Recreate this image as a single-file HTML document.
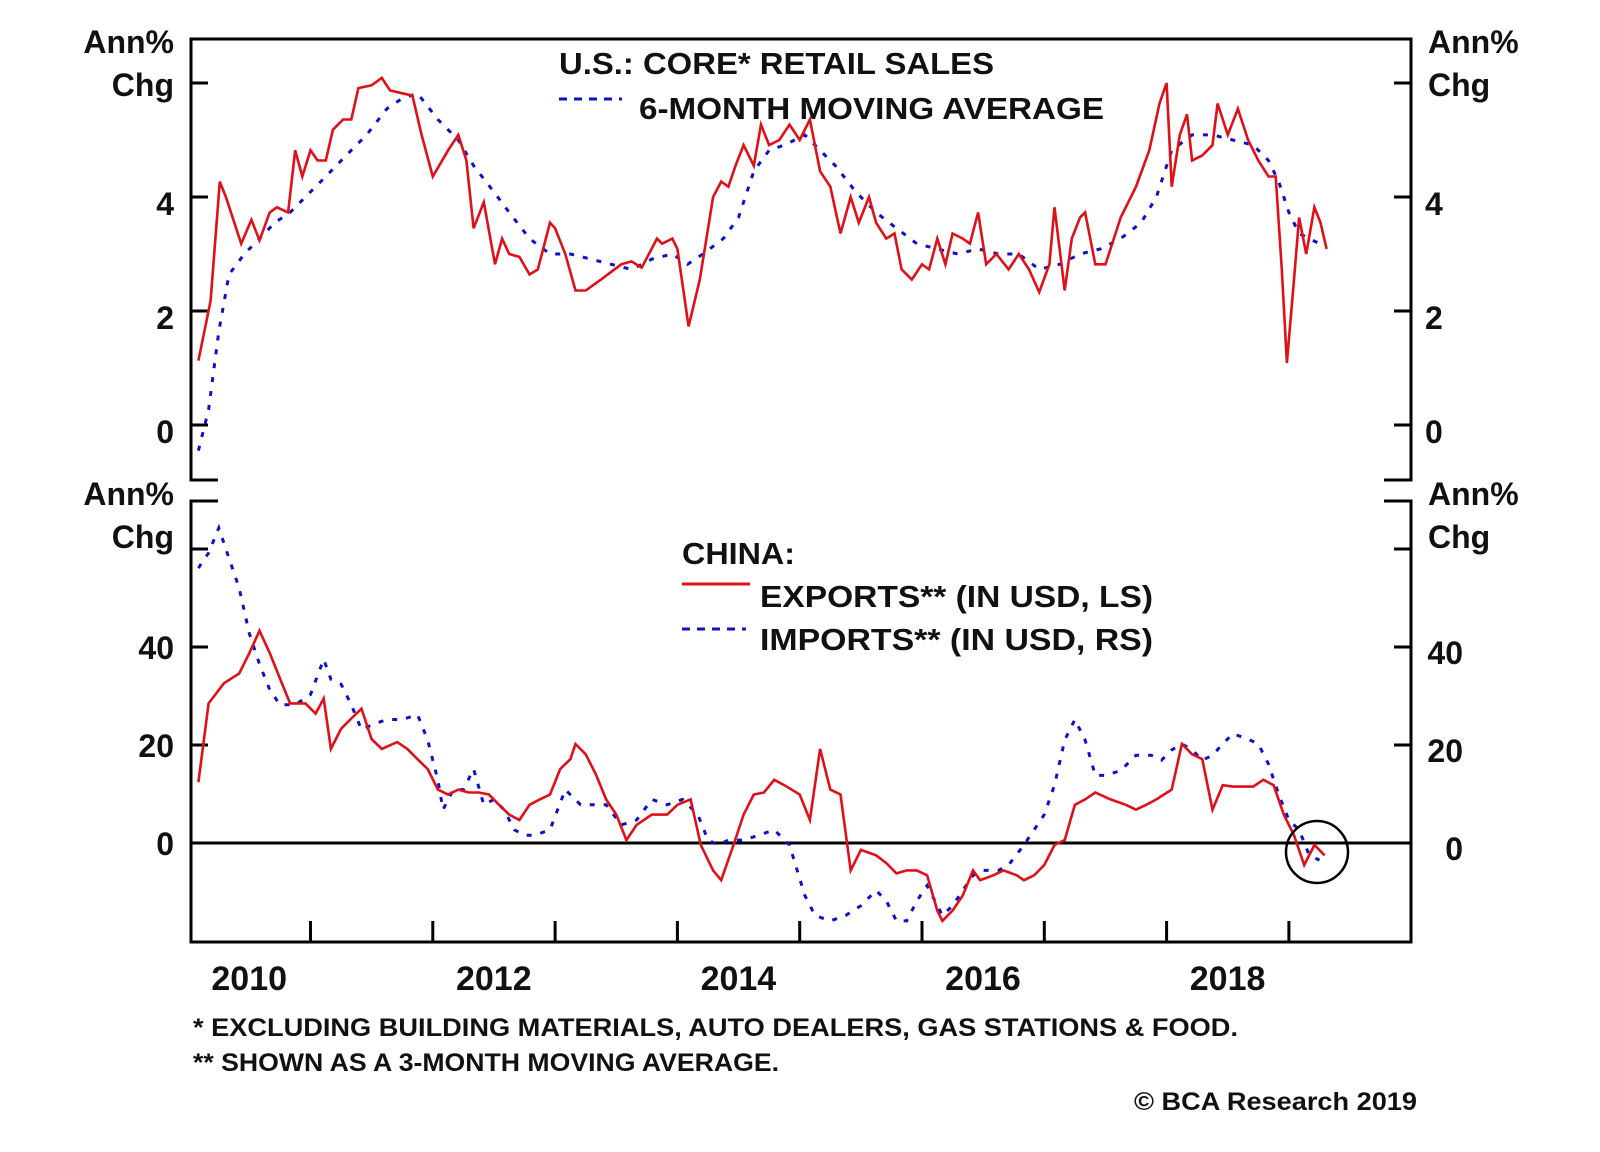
<!DOCTYPE html>
<html><head><meta charset="utf-8">
<style>
html,body{margin:0;padding:0;background:#fff;}
svg{display:block;}
text{font-family:"Liberation Sans",Arial,sans-serif;font-weight:bold;fill:#111;}
</style></head>
<body>
<svg id="chart" width="1600" height="1152" viewBox="0 0 1600 1152" xmlns="http://www.w3.org/2000/svg">
<rect x="0" y="0" width="1600" height="1152" fill="#fff"/>
<g id="frame" stroke="#000" stroke-width="3" fill="none">
  <polyline points="218,480 191,480 191,39 1411,39 1411,480 1384,480"/>
  <polyline points="218,501 191,501 191,942 1411,942 1411,501 1384,501"/>
</g>
<g id="ticks"></g>
<g id="series"></g>
<g id="labels"></g>

<g>
  <text x="559" y="74" font-size="31" textLength="435" lengthAdjust="spacingAndGlyphs">U.S.: CORE* RETAIL SALES</text>
  <line x1="559" y1="99" x2="622" y2="99" stroke="#1010c8" stroke-width="3" stroke-dasharray="8 7"/>
  <text x="639" y="119" font-size="31" textLength="465" lengthAdjust="spacingAndGlyphs">6-MONTH MOVING AVERAGE</text>
</g>
<g>
  <text x="682" y="564" font-size="31" textLength="113" lengthAdjust="spacingAndGlyphs">CHINA:</text>
  <line x1="682" y1="584" x2="750" y2="584" stroke="#e01018" stroke-width="3"/>
  <text x="760" y="607" font-size="31" textLength="393" lengthAdjust="spacingAndGlyphs">EXPORTS** (IN USD, LS)</text>
  <line x1="682" y1="629" x2="746" y2="629" stroke="#1010c8" stroke-width="3" stroke-dasharray="8 7"/>
  <text x="760" y="650" font-size="31" textLength="393" lengthAdjust="spacingAndGlyphs">IMPORTS** (IN USD, RS)</text>
</g>
<ellipse cx="1317" cy="852" rx="31" ry="31" fill="none" stroke="#000" stroke-width="2.5"/>
<g>
  <text x="193" y="1036" font-size="25" textLength="1045" lengthAdjust="spacingAndGlyphs">*  EXCLUDING BUILDING MATERIALS, AUTO DEALERS, GAS STATIONS &amp; FOOD.</text>
  <text x="193" y="1071" font-size="25" textLength="586" lengthAdjust="spacingAndGlyphs">** SHOWN AS A 3-MONTH MOVING AVERAGE.</text>
  <text x="1134" y="1110" font-size="25" textLength="283" lengthAdjust="spacingAndGlyphs">© BCA Research 2019</text>
</g>
</svg>
<script>
// months since Jan 2010
const usSalesMonths = [1.0,2.2,3.1,3.7,5.2,6.2,7.0,8.0,8.7,9.8,10.5,11.2,12.0,12.7,13.5,14.2,15.2,16.0,16.7,18.0,19.0,19.8,21.0,22.0,22.9,24.0,25.5,26.5,27.3,28.0,29.0,30.1,30.8,31.5,32.5,33.5,34.3,35.5,36.0,37.0,38.0,39.0,40.5,42.5,43.5,44.5,46.0,46.5,47.5,48.0,49.1,50.2,51.5,52.3,53.0,53.7,54.5,55.5,56.2,57.0,58.0,59.0,60.0,61.0,62.0,63.0,64.0,65.0,65.8,66.8,67.5,68.5,69.3,70.0,71.0,72.0,72.7,73.5,74.3,75.0,76.0,76.7,77.5,78.3,79.3,80.5,81.5,82.5,83.5,84.5,85.0,86.0,86.7,87.5,88.0,89.0,90.0,91.5,93.0,94.3,95.3,96.0,96.5,97.3,98.0,98.5,99.5,100.5,101.0,102.0,103.0,104.0,105.0,106.0,106.7,107.3,107.8,108.5,109.0,109.7,110.5,111.1,111.7];
const usSalesValues = [1.13,2.18,4.27,4.0,3.18,3.6,3.24,3.73,3.82,3.73,4.82,4.36,4.82,4.64,4.64,5.18,5.36,5.36,5.91,5.96,6.09,5.87,5.82,5.78,5.09,4.36,4.82,5.09,4.64,3.45,3.91,2.82,3.27,3.0,2.95,2.64,2.73,3.55,3.45,3.0,2.36,2.36,2.55,2.82,2.87,2.76,3.27,3.18,3.27,3.09,1.73,2.55,4.0,4.27,4.18,4.55,4.91,4.55,5.27,4.91,5.0,5.27,5.0,5.36,4.45,4.18,3.36,4.0,3.55,4.0,3.55,3.27,3.36,2.73,2.55,2.82,2.73,3.27,2.82,3.36,3.27,3.18,3.73,2.82,3.0,2.73,3.0,2.73,2.33,2.82,3.82,2.36,3.27,3.64,3.73,2.82,2.82,3.64,4.18,4.82,5.64,6.0,4.18,5.09,5.45,4.64,4.73,4.91,5.64,5.09,5.55,5.0,4.64,4.36,4.36,2.73,1.09,2.55,3.64,3.0,3.82,3.55,3.09];
const usMaMonths = [1.0,2.0,3.0,4.0,5.5,7.0,8.5,10.0,11.5,13.5,15.5,17.5,19.5,21.0,22.5,24.5,26.5,28.0,30.0,31.5,33.5,35.5,37.5,39.5,41.5,43.5,45.5,47.5,49.0,50.5,52.5,54.0,55.5,57.0,58.5,60.5,62.0,63.5,65.5,67.5,69.5,71.5,73.5,75.5,77.5,79.5,81.5,83.5,85.5,87.5,89.5,91.5,93.5,95.0,96.5,98.5,100.5,102.5,104.5,106.0,107.0,108.0,109.0,110.0,111.0];
const usMaValues = [-0.45,0.27,1.64,2.64,3.0,3.27,3.55,3.73,4.0,4.36,4.73,5.09,5.55,5.73,5.82,5.36,5.0,4.55,4.09,3.73,3.27,3.0,3.0,2.91,2.82,2.73,2.91,3.0,2.82,3.0,3.27,3.64,4.45,4.82,4.91,5.09,4.82,4.55,4.09,3.73,3.45,3.18,3.09,3.0,3.09,3.0,3.0,2.73,2.82,3.0,3.09,3.27,3.55,4.0,4.82,5.09,5.09,5.0,4.91,4.64,4.27,3.73,3.36,3.27,3.18];
const exportsMonths = [1.0,2.0,3.5,5.0,6.0,7.0,8.0,9.0,10.0,11.5,12.5,13.3,14.0,15.0,16.0,17.0,18.0,19.0,20.5,21.5,22.5,23.5,24.5,25.5,26.5,27.5,28.5,29.5,30.5,31.5,32.5,33.5,34.5,35.5,36.5,37.5,38.0,39.0,40.0,41.0,42.0,43.0,44.0,45.5,47.0,48.0,49.3,50.3,51.5,52.3,53.5,54.5,55.5,56.5,57.5,58.5,60.0,61.0,62.0,63.0,64.0,65.0,66.0,67.5,68.5,69.5,70.5,71.5,72.5,73.5,74.0,75.0,76.0,77.0,77.7,79.0,80.0,81.3,82.0,83.0,84.0,85.0,86.0,87.0,88.0,89.0,90.5,92.0,93.0,94.0,95.0,96.5,97.5,98.5,99.5,100.5,101.5,102.5,103.5,104.5,105.5,106.5,107.5,108.5,109.5,110.5,111.5];
const exportsValues = [12.4,28.5,32.6,34.6,38.8,43.3,38.8,33.6,28.5,28.5,26.4,29.5,19.2,23.3,25.4,27.4,21.2,19.2,20.6,19.2,17.1,15.1,10.9,9.9,10.9,10.3,10.3,9.9,7.8,5.8,4.7,7.8,8.9,9.9,15.1,17.1,20.2,18.1,14.0,8.9,5.8,0.6,3.7,5.8,5.8,7.8,8.9,-0.4,-5.6,-7.6,-0.4,5.8,9.9,10.3,12.9,11.8,9.9,4.7,19.2,10.9,9.9,-5.6,-1.4,-2.5,-4.1,-6.2,-5.6,-5.6,-6.6,-13.8,-15.9,-13.8,-10.7,-5.6,-7.6,-6.6,-5.6,-6.6,-7.6,-6.6,-4.5,-0.4,0.6,7.8,8.9,10.3,8.9,7.8,6.8,7.8,8.9,10.9,20.2,18.1,17.1,6.8,11.8,11.5,11.5,11.5,12.9,11.8,5.8,1.6,-4.5,-0.4,-2.5];
const importsMonths = [1.0,2.0,3.0,4.0,5.0,6.0,7.0,8.0,9.0,10.5,12.0,13.3,14.0,15.0,16.0,17.0,18.0,19.5,21.0,22.5,23.5,24.5,25.0,26.0,27.0,28.0,29.0,30.0,31.0,32.0,33.0,34.0,35.5,37.0,38.5,39.5,41.0,42.5,44.0,45.5,47.0,48.5,50.0,51.0,52.0,53.0,54.5,56.0,57.5,59.0,60.5,61.5,63.0,64.5,66.0,67.5,68.5,69.5,70.5,71.5,72.5,74.0,75.0,76.0,77.0,78.0,79.5,80.5,82.0,83.0,84.0,85.0,86.0,87.0,88.0,89.0,90.0,91.5,93.0,94.5,95.5,96.5,97.5,98.5,99.5,100.5,101.5,102.5,104.0,105.0,106.0,107.0,108.0,109.0,110.0,111.0];
const importsValues = [56.1,59.2,64.3,58.1,52.0,42.7,36.5,31.3,28.2,28.2,30.3,37.5,33.4,32.4,28.2,23.1,24.1,25.2,25.2,26.2,21.0,12.8,6.8,10.9,10.9,15.1,7.8,8.9,6.8,2.7,1.6,1.6,2.7,10.9,7.8,7.8,7.8,3.7,4.7,8.9,7.8,8.9,5.8,0.6,-0.4,0.6,0.6,1.6,2.7,-0.4,-10.7,-14.8,-15.9,-14.8,-12.8,-9.7,-11.8,-15.9,-15.9,-11.8,-8.7,-14.8,-12.8,-9.7,-6.6,-5.6,-5.6,-4.5,-0.4,2.7,5.8,11.8,21.0,25.2,21.0,13.8,13.8,14.8,17.9,17.9,16.9,19.0,20.2,19.0,16.9,17.9,20.2,22.3,21.2,20.2,16.1,9.9,4.7,2.7,-2.5,-3.5];
const upperTicks = [0,2,4,6];
const upperTickLabels = ["0","2","4",""];
const lowerTicks = [0,20,40,60];
const lowerTickLabels = ["0","20","40",""];
const yearTicks = [2011,2012,2013,2014,2015,2016,2017,2018,2019];
const yearLabels = [2010,2012,2014,2016,2018];

const NS = "http://www.w3.org/2000/svg";
function xOf(m){ return 922 + (m/12 + 2010 - 2016) * 122.3; }
function yearX(y){ return 922 + (y - 2016) * 122.3; }
function yU(v){ return 425 - 57 * v; }
function yL(v){ return 843 - 4.9 * v; }
function mk(tag, attrs, parent){
  const e = document.createElementNS(NS, tag);
  for (const k in attrs) e.setAttribute(k, attrs[k]);
  parent.appendChild(e);
  return e;
}
const gT = document.getElementById('ticks');
const gS = document.getElementById('series');
const gL = document.getElementById('labels');

upperTicks.forEach((v,i)=>{
  const y = yU(v);
  let a = mk('line',{x1:191,x2:208,y1:y,y2:y,stroke:'#000','stroke-width':3},gT);
  
  
  let b = mk('line',{x1:1394,x2:1411,y1:y,y2:y,stroke:'#000','stroke-width':3},gT);
  
  
  if (upperTickLabels[i]) {
    let t = mk('text',{x:174,y:y+18,'font-size':32,'text-anchor':'end'},gL);
    t.textContent = upperTickLabels[i];
    
    
    let t2 = mk('text',{x:1425,y:y+18,'font-size':32},gL);
    t2.textContent = upperTickLabels[i];
    
    
  }
});
lowerTicks.forEach((v,i)=>{
  const y = yL(v);
  let a = mk('line',{x1:191,x2:208,y1:y,y2:y,stroke:'#000','stroke-width':3},gT);
  
  
  let b = mk('line',{x1:1394,x2:1411,y1:y,y2:y,stroke:'#000','stroke-width':3},gT);
  
  
  if (lowerTickLabels[i]) {
    let t = mk('text',{x:174,y:y+12,'font-size':32,'text-anchor':'end'},gL);
    t.textContent = lowerTickLabels[i];
    
    
    let t2 = mk('text',{x:1463,y:y+17,'font-size':32,'text-anchor':'end'},gL);
    t2.textContent = lowerTickLabels[i];
    
    
  }
});
let zl = mk('line',{x1:191,x2:1411,y1:yL(0),y2:yL(0),stroke:'#000','stroke-width':3},gT);


yearTicks.forEach(yr=>{
  const x = yearX(yr);
  let l = mk('line',{x1:x,x2:x,y1:921,y2:942,stroke:'#000','stroke-width':3},gT);
  
  
});
yearLabels.forEach(yr=>{
  let t = mk('text',{x:yearX(yr)+61,y:990,'font-size':34,'text-anchor':'middle'},gL);
  t.textContent = String(yr);
  
  
});
[[174,'end',53,'Ann%'],[174,'end',96,'Chg'],[1428,'start',53,'Ann%'],[1428,'start',96,'Chg'],
 [174,'end',505,'Ann%'],[174,'end',548,'Chg'],[1428,'start',505,'Ann%'],[1428,'start',548,'Chg']].forEach(a=>{
  let t = mk('text',{x:a[0],y:a[2],'font-size':32,'text-anchor':a[1]},gL);
  t.textContent = a[3];
  
  
});
function pts(ms, vs, yf){ return ms.map((m,i)=>xOf(m).toFixed(1)+','+yf(vs[i]).toFixed(1)).join(' '); }
let s1 = mk('polyline',{points:pts(usMaMonths,usMaValues,yU),fill:'none',stroke:'#1010c8','stroke-width':3,'stroke-dasharray':'5 9'},gS);


let s2 = mk('polyline',{points:pts(usSalesMonths,usSalesValues,yU),fill:'none',stroke:'#e01018','stroke-width':2.6},gS);


let s3 = mk('polyline',{points:pts(importsMonths,importsValues,yL),fill:'none',stroke:'#1010c8','stroke-width':3,'stroke-dasharray':'5 9'},gS);


let s4 = mk('polyline',{points:pts(exportsMonths,exportsValues,yL),fill:'none',stroke:'#e01018','stroke-width':2.6},gS);


</script>
</body></html>
